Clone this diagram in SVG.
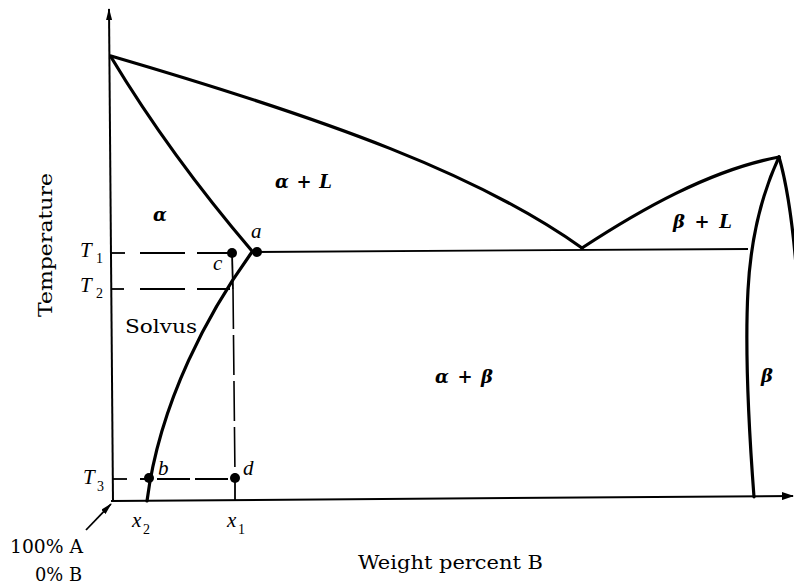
<svg xmlns="http://www.w3.org/2000/svg" width="794" height="587" viewBox="0 0 794 587">
<defs>
<style>
.ax{stroke:#000;stroke-width:2;fill:none}
.cv{stroke:#000;stroke-width:3.2;fill:none;stroke-linecap:round;stroke-linejoin:round}
.thin{stroke:#000;stroke-width:1.8;fill:none}
.dash{stroke:#000;stroke-width:1.8;fill:none;stroke-dasharray:45 12}
.vdash{stroke:#000;stroke-width:1.6;fill:none;stroke-dasharray:40 6}
.dot{fill:#000}
.it{font-family:"Liberation Serif","DejaVu Serif",serif;font-style:italic;font-size:21px;fill:#000}
.gk{font-family:"DejaVu Serif","Liberation Serif",serif;font-style:italic;font-weight:bold;font-size:18px;fill:#000}
.sub{font-family:"Liberation Serif",serif;font-size:14px;fill:#000}
.rm{font-family:"DejaVu Serif","Liberation Serif",serif;font-size:18px;fill:#000}
</style>
<marker id="ah" viewBox="0 0 12 8" refX="11" refY="4" markerWidth="12" markerHeight="8" markerUnits="userSpaceOnUse" orient="auto">
<path d="M0,0 L12,4 L0,8 Z" fill="#000"/>
</marker>
<marker id="ahs" viewBox="0 0 12 6" refX="11" refY="3" markerWidth="12" markerHeight="6" markerUnits="userSpaceOnUse" orient="auto">
<path d="M0,0 L12,3 L0,6 Z" fill="#000"/>
</marker>
</defs>
<rect width="794" height="587" fill="#fff"/>

<g id="axes">
<line class="ax" x1="113" y1="501" x2="109" y2="9" marker-end="url(#ahs)"/>
<line class="ax" x1="111" y1="501" x2="793" y2="496" marker-end="url(#ah)"/>
</g>

<g id="phase-boundaries">
<path class="cv" d="M111,56 C330,120 480,175 582,248"/>
<path class="cv" d="M111,57 Q170,155 252,251"/>
<path class="cv" d="M582,248 C640,210 710,170 779,157"/>
<path class="cv" d="M779,157 Q752,215 748,290 Q744,365 754,497"/>
<path class="cv" d="M779,157 Q790,195 796,265"/>
<path class="cv" d="M252,252 C210,310 160,400 147,501"/>
<line class="thin" x1="252" y1="252" x2="748" y2="249"/>
</g>

<g id="construction-lines">
<line class="thin" x1="111" y1="253" x2="125" y2="253"/>
<line class="dash" x1="140" y1="253" x2="232" y2="253"/>
<line class="thin" x1="111" y1="289" x2="124" y2="289"/>
<line class="dash" x1="140" y1="289" x2="230" y2="289"/>
<line class="thin" x1="113" y1="479" x2="127" y2="479"/>
<line class="dash" x1="140" y1="479" x2="235" y2="479" style="stroke-dasharray:12 5 33 5 33 5"/>
<line class="thin" x1="232" y1="253" x2="233" y2="289"/>
<line class="vdash" x1="233" y1="289" x2="235" y2="478"/>
<line class="thin" x1="235" y1="478" x2="235" y2="500"/>
<line class="thin" x1="86" y1="530" x2="111" y2="504" marker-end="url(#ahs)"/>
</g>

<g id="points">
<circle class="dot" cx="232" cy="253" r="5"/>
<circle class="dot" cx="257" cy="252" r="5"/>
<circle class="dot" cx="149" cy="478" r="5"/>
<circle class="dot" cx="235" cy="478" r="5"/>
</g>

<g id="labels">
<text class="gk" x="153" y="221">α</text>
<text class="gk" x="275" y="188" textLength="57" lengthAdjust="spacing">α + L</text>
<text class="gk" x="673" y="228" textLength="59" lengthAdjust="spacing">β + L</text>
<text class="gk" x="435" y="383" textLength="58" lengthAdjust="spacing">α + β</text>
<text class="gk" x="761" y="382">β</text>
<text class="it" x="251" y="238">a</text>
<text class="it" x="213" y="270">c</text>
<text class="it" x="158" y="475">b</text>
<text class="it" x="243" y="475">d</text>
<text class="it" x="80" y="257">T</text><text class="sub" x="96" y="263">1</text>
<text class="it" x="80" y="292">T</text><text class="sub" x="96" y="298">2</text>
<text class="it" x="83" y="484">T</text><text class="sub" x="97" y="491">3</text>
<text class="it" x="132" y="527">x</text><text class="sub" x="143" y="534">2</text>
<text class="it" x="227" y="527">x</text><text class="sub" x="238" y="534">1</text>
<text class="rm" x="125" y="333" textLength="72" lengthAdjust="spacingAndGlyphs">Solvus</text>
<text class="rm" x="10" y="553" textLength="73" lengthAdjust="spacingAndGlyphs">100% A</text>
<text class="rm" x="35" y="581" textLength="47" lengthAdjust="spacingAndGlyphs">0% B</text>
<text class="rm" x="358" y="569" textLength="185" lengthAdjust="spacingAndGlyphs">Weight percent B</text>
<text class="rm" transform="translate(52,317) rotate(-90)" textLength="144" lengthAdjust="spacingAndGlyphs">Temperature</text>
</g>
</svg>
